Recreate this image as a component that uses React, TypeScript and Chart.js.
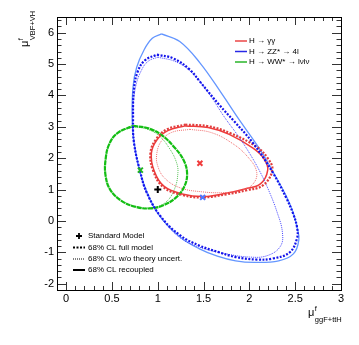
import React, { useEffect, useRef } from "react";
import { Chart, registerables } from "chart.js";
Chart.register(...registerables);

// ---- axis ticks ----
const xTickValues = [0, 0.5, 1, 1.5, 2, 2.5, 3];
const yTickValues = [-2, -1, 0, 1, 2, 3, 4, 5, 6];

// ---- contours (x = mu ggF+ttH, y = mu VBF+VH) ----
const zzRecoupled: number[][] = [
  [1.04, 5.96], [1.24, 5.72], [1.46, 5.04], [1.7, 4.05], [1.89, 3.22], [2.12, 2.26],
  [2.28, 1.45], [2.41, 0.75], [2.48, 0.25], [2.52, -0.2], [2.54, -0.6], [2.48, -1.05], [2.32, -1.27],
  [2.05, -1.32], [1.85, -1.27], [1.65, -1.12], [1.45, -0.88], [1.24, -0.5], [1.03, 0.12],
  [0.9, 0.8], [0.81, 1.52], [0.74, 2.5], [0.72, 3.3], [0.73, 4.27], [0.77, 4.9],
  [0.85, 5.45], [0.94, 5.82],
];
const zzFull: number[][] = [
  [0.99, 5.3], [1.17, 5.18], [1.35, 4.82], [1.46, 4.44], [1.68, 3.67], [1.83, 3.19],
  [2.04, 2.48], [2.26, 1.52], [2.4, 0.75], [2.475, 0.25], [2.52, -0.2], [2.52, -0.55], [2.44, -1.0],
  [2.25, -1.2], [2.08, -1.23], [1.85, -1.15], [1.65, -0.98], [1.45, -0.78], [1.24, -0.45],
  [1.03, 0.15], [0.88, 0.9], [0.81, 1.55], [0.74, 2.5], [0.73, 3.3], [0.74, 4.2],
  [0.78, 4.75], [0.86, 5.12],
];
const zzNoTheory: number[][] = [
  [1.0, 5.22], [1.2, 5.07], [1.38, 4.7], [1.56, 4.05], [1.73, 3.3], [1.86, 2.78], [1.98, 2.26],
  [2.11, 1.6], [2.21, 0.98], [2.3, 0.3], [2.36, -0.35], [2.34, -0.8], [2.2, -1.1],
  [2.0, -1.15], [1.7, -1.02], [1.46, -0.84], [1.25, -0.55], [1.05, 0.05], [0.9, 0.75],
  [0.8, 1.6], [0.74, 2.6], [0.73, 3.5], [0.76, 4.3], [0.83, 4.85], [0.9, 5.1],
];
const ggFull: number[][] = [
  [1.3, 3.07], [1.55, 3.02], [1.79, 2.8], [2.08, 2.36], [2.2, 2.0], [2.25, 1.62],
  [2.15, 1.14], [1.97, 0.98], [1.75, 0.85], [1.5, 0.75], [1.28, 0.82], [1.06, 1.08],
  [0.95, 1.6], [0.92, 2.16], [0.98, 2.6], [1.1, 2.92],
];
const ggRecoupled: number[][] = [
  [1.3, 3.03], [1.55, 2.98], [1.78, 2.76], [2.04, 2.32], [2.16, 1.98], [2.2, 1.62],
  [2.12, 1.18], [1.95, 1.02], [1.74, 0.88], [1.5, 0.78], [1.28, 0.85], [1.07, 1.1],
  [0.96, 1.6], [0.93, 2.16], [0.99, 2.58], [1.11, 2.88],
];
const ggNoTheory: number[][] = [
  [1.35, 2.92], [1.58, 2.82], [1.8, 2.5], [1.98, 2.05], [2.08, 1.55], [2.03, 1.15],
  [1.88, 0.95], [1.7, 0.9], [1.48, 0.93], [1.25, 1.05], [1.08, 1.35], [1.0, 1.75],
  [0.99, 2.16], [1.04, 2.55], [1.15, 2.82],
];
const wwFull: number[][] = [
  [0.73, 3.03], [0.9, 2.95], [1.05, 2.72], [1.18, 2.35], [1.28, 1.95], [1.32, 1.52],
  [1.29, 1.1], [1.2, 0.75], [1.06, 0.5], [0.92, 0.4], [0.76, 0.45], [0.6, 0.65],
  [0.48, 1.0], [0.43, 1.45], [0.43, 1.95], [0.47, 2.45], [0.56, 2.8],
];
const wwNoTheory: number[][] = [
  [0.73, 3.0], [0.88, 2.93], [1.02, 2.7], [1.13, 2.3], [1.2, 1.9], [1.22, 1.55],
  [1.18, 1.0], [1.08, 0.58], [0.92, 0.42], [0.76, 0.46], [0.6, 0.65], [0.48, 1.0],
  [0.43, 1.45], [0.43, 1.95], [0.47, 2.45], [0.56, 2.8],
];

// ---- best-fit points ----
const smPoint = [1.0, 1.0];
const ggBest = [1.46, 1.84];
const wwBest = [0.81, 1.62];
const zzBest = [1.49, 0.75];

// ---- legend texts ----
const channelLabels = ["H \u2192 \u03b3\u03b3", "H \u2192 ZZ* \u2192 4l", "H \u2192 WW* \u2192 l\u03bdl\u03bd"];
const channelColors = ["rgb(235,70,70)", "rgb(40,40,230)", "rgb(40,180,40)"];
const styleLabels = ["Standard Model", "68% CL full model", "68% CL w/o theory uncert.", "68% CL recoupled"];

const FONT = "'Liberation Sans', Arial, Helvetica, sans-serif";

const toXY = (pts: number[][]) => {
  const d = pts.map(([x, y]) => ({ x, y }));
  d.push({ x: pts[0][0], y: pts[0][1] });
  return d;
};

const contour = (pts: number[][], color: string, width: number, dash: number[], order = 2) => ({
  type: "scatter" as const,
  data: toXY(pts),
  showLine: true,
  borderColor: color,
  backgroundColor: color,
  borderWidth: width,
  borderDash: dash,
  pointRadius: 0,
  tension: 0.4,
  fill: false,
  order,
});

const marker = (p: number[], color: string, style: string) => ({
  type: "scatter" as const,
  data: [{ x: p[0], y: p[1] }],
  pointStyle: style,
  pointRadius: 3.5,
  borderWidth: 2,
  borderColor: color,
  backgroundColor: color,
  showLine: false,
  order: 0,
});

const framePlugin = {
  id: "rootFrame",
  afterDraw(chart: any) {
    const { ctx, chartArea: a, scales } = chart;
    const xs = scales.x, ys = scales.y;
    ctx.save();
    // ticks
    ctx.strokeStyle = "#333";
    ctx.lineWidth = 1;
    ctx.beginPath();
    for (let k = -1; k <= 30; k++) {
      const v = k / 10;
      const px = Math.round(xs.getPixelForValue(v)) + 0.5;
      const len = k % 5 === 0 ? 8 : 4;
      ctx.moveTo(px, a.bottom); ctx.lineTo(px, a.bottom - len);
      ctx.moveTo(px, a.top); ctx.lineTo(px, a.top + len);
    }
    for (let k = -11; k <= 32; k++) {
      const v = k / 5;
      const py = Math.round(ys.getPixelForValue(v)) + 0.5;
      const len = k % 5 === 0 ? 9 : 4.5;
      ctx.moveTo(a.left, py); ctx.lineTo(a.left + len, py);
      ctx.moveTo(a.right, py); ctx.lineTo(a.right - len, py);
    }
    ctx.stroke();
    // frame
    ctx.strokeStyle = "#000";
    ctx.strokeRect(Math.round(a.left) + 0.5, Math.round(a.top) + 0.5, Math.round(a.right - a.left), Math.round(a.bottom - a.top));

    // axis titles
    ctx.fillStyle = "#000";
    ctx.textBaseline = "alphabetic";
    const mu = "\u03bc";
    ctx.font = `11px ${FONT}`;
    ctx.textAlign = "left";
    ctx.fillText(mu, 308, 316);
    const muW = ctx.measureText(mu).width;
    ctx.font = `7.5px ${FONT}`;
    ctx.fillText("f", 308 + muW + 0.5, 311);
    ctx.fillText("ggF+ttH", 308 + muW + 0.5, 322);
    ctx.save();
    ctx.translate(28, 47);
    ctx.rotate(-Math.PI / 2);
    ctx.font = `11px ${FONT}`;
    ctx.fillText(mu, 0, 0);
    ctx.font = `7.5px ${FONT}`;
    ctx.fillText("f", muW + 0.5, -5);
    ctx.fillText("VBF+VH", muW + 0.5, 7);
    ctx.restore();

    // channel legend (top right)
    ctx.font = `8px ${FONT}`;
    ctx.textBaseline = "middle";
    const rowsY = [41, 51.5, 62];
    channelLabels.forEach((lab, i) => {
      ctx.strokeStyle = channelColors[i];
      ctx.lineWidth = 1.5;
      ctx.setLineDash([]);
      ctx.beginPath();
      ctx.moveTo(235, rowsY[i]); ctx.lineTo(247, rowsY[i]);
      ctx.stroke();
      ctx.fillStyle = "#000";
      ctx.fillText(lab, 249, rowsY[i]);
    });

    // style legend (bottom left)
    const sy = [236, 247.5, 259, 270];
    ctx.strokeStyle = "#000";
    ctx.lineWidth = 1.8;
    ctx.beginPath();
    ctx.moveTo(76, sy[0]); ctx.lineTo(82, sy[0]);
    ctx.moveTo(79, sy[0] - 3); ctx.lineTo(79, sy[0] + 3);
    ctx.stroke();
    const lineStyles = [
      { w: 2, dash: [2, 1.5] },
      { w: 1, dash: [1, 1] },
      { w: 2, dash: [] as number[] },
    ];
    lineStyles.forEach((s, i) => {
      ctx.lineWidth = s.w;
      ctx.setLineDash(s.dash);
      ctx.beginPath();
      ctx.moveTo(73, sy[i + 1]); ctx.lineTo(85, sy[i + 1]);
      ctx.stroke();
    });
    ctx.setLineDash([]);
    ctx.fillStyle = "#000";
    styleLabels.forEach((lab, i) => ctx.fillText(lab, 88, sy[i]));
    ctx.restore();
  },
};

export default function App() {
  const ref = useRef<HTMLCanvasElement | null>(null);
  useEffect(() => {
    document.body.style.margin = "0";
    const canvas = ref.current!;
    const chart = new Chart(canvas, {
      type: "scatter",
      data: {
        datasets: [
          contour(zzRecoupled, "rgb(100,150,255)", 1.3, [], 3),
          contour(zzNoTheory, "rgb(70,70,255)", 1, [1, 1], 2),
          contour(zzFull, "rgb(20,20,235)", 2.2, [2, 1.5], 1),
          contour(ggNoTheory, "rgb(240,110,110)", 1, [1, 1], 2),
          contour(ggRecoupled, "rgb(240,60,60)", 1.5, [], 2),
          contour(ggFull, "rgb(225,60,60)", 2.2, [2, 1.5], 1),
          contour(wwNoTheory, "rgb(80,190,80)", 1, [1, 1], 2),
          contour(wwFull, "rgb(20,190,20)", 2.2, [5, 0.7], 1),
          marker(smPoint, "#000", "cross"),
          marker(ggBest, "rgb(240,60,60)", "crossRot"),
          marker(wwBest, "rgb(30,180,30)", "crossRot"),
          marker(zzBest, "rgb(80,120,255)", "crossRot"),
        ] as any,
      },
      options: {
        responsive: false,
        devicePixelRatio: 1,
        animation: false,
        events: [],
        layout: { padding: { top: 17, right: 18, left: 0, bottom: 0 } },
        plugins: { legend: { display: false }, tooltip: { enabled: false } },
        scales: {
          x: {
            type: "linear",
            min: -0.1,
            max: 3,
            grid: { display: false, drawTicks: false },
            border: { display: false },
            afterBuildTicks: (s: any) => { s.ticks = xTickValues.map((v) => ({ value: v })); },
            afterFit: (s: any) => { s.height = 55; },
            ticks: {
              padding: 2,
              color: "#000",
              font: { family: FONT, size: 11 },
              maxRotation: 0,
              autoSkip: false,
              callback: (v: any) => String(v),
            },
          },
          y: {
            type: "linear",
            min: -2.2,
            max: 6.5,
            grid: { display: false, drawTicks: false },
            border: { display: false },
            afterBuildTicks: (s: any) => { s.ticks = yTickValues.map((v) => ({ value: v })); },
            afterFit: (s: any) => { s.width = 57; },
            ticks: {
              padding: 3,
              color: "#000",
              font: { family: FONT, size: 11 },
              autoSkip: false,
              callback: (v: any) => String(v),
            },
          },
        },
      },
      plugins: [framePlugin],
    });
    return () => chart.destroy();
  }, []);
  return (
    <div style={{ position: "absolute", left: 0, top: 0, width: 359, height: 345, background: "#fff" }}>
      <canvas ref={ref} width={359} height={345} />
    </div>
  );
}
